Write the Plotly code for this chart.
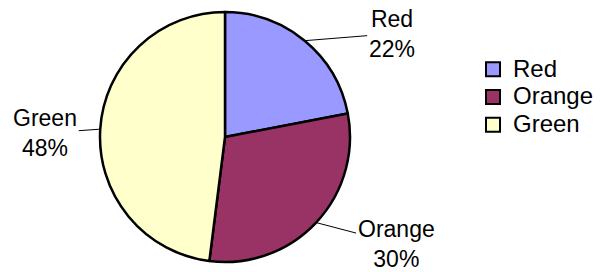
import math
import plotly.graph_objects as go

labels = ["Red", "Orange", "Green"]
values = [22, 30, 48]
colors = ["#9999FF", "#993366", "#FFFFCC"]

# layout geometry (pixels)
W, H = 600, 272
cx, cy, r = 225, 137, 125
FONT = "Arial, Liberation Sans, sans-serif"
# label text offsets (pixels) from the slice edge point
label_offsets = [(87, -7), (80, 21), (-55, 4)]

fig = go.Figure(go.Pie(
    labels=labels, values=values, sort=False, direction="clockwise", rotation=0,
    marker=dict(colors=colors, line=dict(color="black", width=2.5)),
    textinfo="none", hoverinfo="label+percent", showlegend=False,
    domain=dict(x=[(cx - r) / W, (cx + r) / W], y=[1 - (cy + r) / H, 1 - (cy - r) / H]),
))

# legend entries with bordered square swatches
for lab, col in zip(labels, colors):
    fig.add_trace(go.Scatter(
        x=[None], y=[None], mode="markers", name=f'<span style="font-size:24px">{lab}</span>',
        marker=dict(symbol="square", size=14, color=col, line=dict(color="black", width=2)),
        hoverinfo="skip", showlegend=True,
    ))

total = sum(values)
cum = 0
annotations = []
for lab, v, (ax, ay) in zip(labels, values, label_offsets):
    mid = (cum + v / 2) / total * 2 * math.pi
    cum += v
    px = cx + r * math.sin(mid)
    py = cy - r * math.cos(mid)
    annotations.append(dict(
        x=px / W, y=1 - py / H, xref="paper", yref="paper",
        text=f"{lab}<br>{round(v / total * 100)}%",
        showarrow=True, arrowhead=0, arrowwidth=1, arrowcolor="black",
        ax=ax, ay=ay, standoff=0, startstandoff=0,
        font=dict(family=FONT, size=23, color="black"), align="center",
    ))

fig.update_layout(
    width=W, height=H, margin=dict(l=0, r=0, t=0, b=0),
    paper_bgcolor="white", plot_bgcolor="white",
    font=dict(family=FONT, color="black"),
    xaxis=dict(visible=False), yaxis=dict(visible=False),
    showlegend=True,
    legend=dict(x=473 / W, y=1 - 97.5 / H, xanchor="left", yanchor="middle",
                font=dict(family=FONT, size=19, color="black"),
                bgcolor="rgba(0,0,0,0)", borderwidth=0),
    annotations=annotations,
)
fig.write_html("out.html", config={"displayModeBar": False},
               post_script="document.body.style.margin='0';")
